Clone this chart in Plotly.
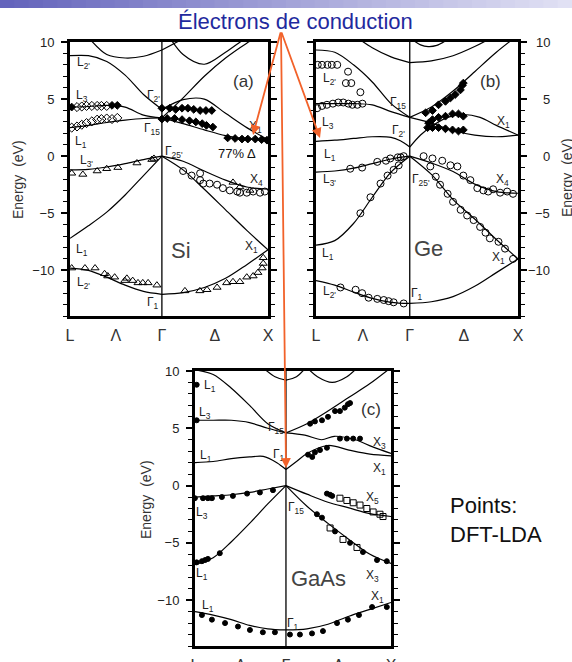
import plotly.graph_objects as go

W, H = 572, 662
KL = 0.866  # length of L-Gamma relative to Gamma-X
F6 = [0.0, 0.2, 0.4, 0.6, 0.8, 1.0]

K_TICKS = [-KL, -KL / 2, 0.0, 0.5, 1.0]
K_LABELS = ["L", "Λ", "Γ", "Δ", "X"]
E_TICKS = [-10, -5, 0, 5, 10]
E_LABELS = ["−10", "−5", "0", "5", "10"]
E_RANGE = [-14, 10]

# ---------------- Si (a): bands on F6 grid (fraction of path) ----------------
SI_L_BANDS = [
    [-9.8, -10.0, -10.6, -11.3, -11.85, -12.1],
    [-7.2, -6.1, -4.9, -3.4, -1.7, 0.0],
    [-1.2, -1.15, -0.95, -0.65, -0.3, 0.0],
    [2.5, 2.7, 2.95, 3.15, 3.3, 3.35],
    [4.3, 4.35, 4.45, 4.3, 3.6, 3.35],
    [8.8, 8.8, 8.3, 7.1, 5.4, 4.1],
    [None, 10.4, 8.9, 8.6, 8.75, 9.3],
]
SI_R_BANDS = [
    [-12.1, -11.95, -11.5, -10.7, -9.5, -8.2],
    [0.0, -1.2, -2.9, -4.7, -6.5, -8.2],
    [0.0, -0.45, -1.3, -2.1, -2.7, -2.9],
    [3.35, 2.85, 2.3, 1.8, 1.5, 1.45],
    [4.1, 4.95, 5.0, 3.75, 2.5, 1.45],
    [3.35, 5.1, 7.0, 8.6, 9.9, 11.0],
    [9.3, 10.3, 11.5, None, None, None],
    [11.5, 8.9, 8.05, 9.1, 10.4, 11.5],
]
# Si points (k on the L..Gamma..X axis, energy in eV)
SI_FILLED_K = [-0.85, -0.47, -0.42,
               0.0, 0.075, 0.13, 0.19, 0.245, 0.30, 0.36, 0.415, 0.47,
               0.0, 0.05, 0.12, 0.19, 0.26, 0.32, 0.38, 0.42, 0.48,
               0.62, 0.69, 0.755, 0.81, 0.88, 0.94, 0.99]
SI_FILLED_E = [4.3, 4.45, 4.45,
               4.2, 4.2, 4.1, 4.2, 4.2, 4.1, 4.0, 4.0, 4.0,
               3.25, 3.3, 3.3, 3.2, 3.1, 3.0, 2.85, 2.7, 2.55,
               1.6, 1.55, 1.5, 1.5, 1.5, 1.45, 1.4]
SI_OPEN_K = [-0.80, -0.755, -0.71, -0.66, -0.61, -0.57, -0.52,
             -0.85, -0.80, -0.755, -0.71, -0.66, -0.61, -0.57, -0.52, -0.47, -0.42]
SI_OPEN_E = [4.3, 4.35, 4.4, 4.4, 4.4, 4.4, 4.4,
             2.5, 2.6, 2.75, 2.9, 3.05, 3.2, 3.25, 3.3, 3.25, 3.35]
SI_TRI_K = [-0.85, -0.745, -0.61, -0.52, -0.415, -0.235, -0.095, -0.075,
            -0.85, -0.725, -0.63, -0.54, -0.51, -0.445, -0.35, -0.33, -0.275, -0.225, -0.18, -0.13, -0.047,
            0.217, 0.358, 0.425, 0.52, 0.61, 0.67, 0.735, 0.80, 0.86, 0.905, 0.945, 0.955, 0.955,
            0.67, 0.735, 0.83]
SI_TRI_E = [-1.5, -1.6, -1.3, -1.1, -1.0, -0.6, -0.3, -0.2,
            -9.8, -9.8, -9.8, -10.3, -10.5, -10.6, -10.9, -10.7, -10.9, -11.1, -11.1, -11.1, -11.3,
            -11.8, -11.8, -11.7, -11.5, -11.1, -11.0, -11.0, -10.6, -10.5, -10.2, -9.8, -9.4, -8.9,
            -2.3, -2.7, -3.0]
SI_CIRC_K = [0.2, 0.28, 0.36, 0.36, 0.39, 0.45, 0.52, 0.575, 0.64, 0.71, 0.735, 0.80, 0.86, 0.925, 0.97]
SI_CIRC_E = [-1.3, -1.7, -1.5, -2.1, -2.4, -2.4, -2.5, -2.8, -3.0, -3.1, -3.2, -3.2, -3.1, -3.2, -3.1]

# ---------------- Ge (b) ----------------
GE_L_BANDS = [
    [-10.9, -11.3, -11.9, -12.45, -12.8, -12.9],
    [-7.8, -7.4, -5.9, -3.6, -1.4, 0.0],
    [-1.4, -1.3, -1.05, -0.65, -0.25, 0.0],
    [4.6, 4.6, 4.6, 4.5, 3.9, 3.4],
    [9.3, 9.1, 8.0, 6.5, 4.6, 3.4],
    [None, None, 10.6, 9.5, 8.7, 8.2],
]
GE_L_C1_F = [0.0, 0.2, 0.4, 0.6, 0.8, 0.9, 1.0]
GE_L_C1_E = [1.3, 1.4, 1.55, 1.7, 1.65, 1.35, 0.8]
GE_R_BANDS = [
    [-12.9, -12.75, -12.3, -11.4, -10.2, -9.0],
    [0.0, -1.6, -3.8, -5.5, -7.3, -9.0],
    [0.0, -0.6, -1.35, -2.45, -3.1, -3.25],
    [3.4, 2.9, 2.25, 1.85, 1.7, 1.85],
    [3.4, 4.3, 5.7, 7.4, 9.1, 10.6],
    [8.2, 8.35, 8.8, 9.6, 10.6, None],
]
GE_R_C1_F = [0.0, 0.1, 0.2, 0.35, 0.5, 0.65, 0.8, 1.0]
GE_R_C1_E = [0.8, 1.85, 2.6, 3.4, 3.65, 3.4, 2.7, 1.85]
GE_R_ARC_F = [0.04, 0.1, 0.17, 0.25, 0.33]
GE_R_ARC_E = [10.1, 9.75, 9.6, 9.7, 10.1]

GE_OPEN_K = [-0.85, -0.81, -0.76, -0.72, -0.67, -0.57, -0.59, -0.54, -0.456,
             -0.856, -0.81, -0.765, -0.71, -0.66, -0.614, -0.567, -0.53, -0.484, -0.437,
             -0.55, -0.44, -0.30, -0.22, -0.18, -0.11, -0.084, -0.056,
             -0.456, -0.363, -0.27, -0.205, -0.149, -0.102,
             -0.64, -0.50, -0.44, -0.38, -0.30, -0.24, -0.195, -0.149, -0.056,
             0.128, 0.21, 0.30, 0.376, 0.44, 0.495, 0.56, 0.624, 0.68, 0.725, 0.77, 0.835, 0.90, 0.954,
             0.19, 0.24, 0.28, 0.35, 0.40, 0.47, 0.53, 0.59, 0.65, 0.70, 0.74, 0.82, 0.88, 0.954]
GE_OPEN_E = [8.0, 8.0, 8.0, 8.0, 8.0, 7.4, 6.4, 6.4, 5.6,
             4.2, 4.4, 4.5, 4.6, 4.7, 4.7, 4.6, 4.5, 4.5, 4.6,
             -1.1, -1.0, -0.5, -0.4, -0.2, -0.1, -0.1, 0.0,
             -5.0, -3.6, -2.4, -1.7, -1.2, -0.8,
             -11.5, -11.7, -12.0, -12.4, -12.5, -12.6, -12.7, -12.8, -12.9,
             0.0, -0.2, -0.4, -0.8, -0.9, -1.7, -2.1, -2.8, -3.0, -3.1, -2.9, -3.2, -3.1, -3.3,
             -0.9, -1.8, -2.5, -3.3, -4.0, -4.7, -5.2, -5.6, -6.2, -6.7, -7.2, -7.5, -8.1, -9.0]
GE_FILLED_K = [0.147, 0.21, 0.266, 0.33, 0.376, 0.42, 0.468, 0.486, 0.495,
               0.174, 0.21, 0.266, 0.33, 0.395, 0.45, 0.495,
               0.165, 0.21, 0.266, 0.33, 0.395, 0.45, 0.495]
GE_FILLED_E = [3.8, 4.0, 4.5, 4.8, 5.1, 5.4, 5.8, 6.2, 6.4,
               2.9, 3.2, 3.4, 3.5, 3.7, 3.7, 3.5,
               2.5, 2.5, 2.5, 2.4, 2.3, 2.2, 2.3]

# ---------------- GaAs (c) ----------------
GA_L_BANDS = [
    [-11.0, -11.3, -11.7, -12.2, -12.5, -12.6],
    [-6.9, -6.3, -4.9, -3.3, -1.6, 0.0],
    [-1.0, -0.9, -0.8, -0.6, -0.3, 0.0],
    [5.7, 5.7, 5.7, 5.5, 5.0, 4.6],
    [10.1, 9.7, 8.5, 7.0, 5.4, 4.6],
]
GA_L_C1_F = [0.0, 0.2, 0.4, 0.6, 0.75, 0.9, 1.0]
GA_L_C1_E = [2.0, 2.1, 2.35, 2.5, 2.55, 2.0, 1.4]
GA_L_ARC_F = [0.76, 0.88, 1.0]
GA_L_ARC_E = [10.2, 9.5, 9.2]
GA_R_BANDS = [
    [-12.6, -12.5, -12.1, -11.4, -10.8, -10.2],
    [0.0, -1.8, -3.3, -4.7, -6.0, -6.8],
    [0.0, -0.75, -1.45, -1.95, -2.45, -2.7],
    [4.6, 5.4, 6.5, 7.7, 8.9, 10.3],
]
GA_R_C1_F = [0.0, 0.1, 0.2, 0.4, 0.6, 0.8, 1.0]
GA_R_C1_E = [1.4, 2.1, 2.8, 3.5, 3.1, 2.75, 2.6]
GA_R_C2_F = [0.0, 0.18, 0.34, 0.46, 0.66, 0.82, 1.0]
GA_R_C2_E = [4.6, 4.4, 4.0, 4.3, 4.0, 3.4, 2.8]
GA_R_ARC1_F = [0.0, 0.1, 0.18]
GA_R_ARC1_E = [9.2, 9.5, 10.2]
GA_R_ARC2_F = [0.2, 0.3, 0.44, 0.58, 0.68]
GA_R_ARC2_E = [10.3, 9.5, 9.0, 9.5, 10.3]

GA_FILLED_K = [-0.85, -0.85,
               0.21, 0.25, 0.276, 0.324, 0.39,
               0.514, 0.58, 0.64, 0.705,
               0.23, 0.276, 0.343, 0.40, 0.467, 0.514, 0.56, 0.59, 0.61,
               -0.867, -0.79, -0.743, -0.705, -0.61, -0.505, -0.37, -0.248, -0.124,
               -0.85, -0.80, -0.77, -0.743, -0.63,
               -0.80, -0.705, -0.58, -0.457, -0.343, -0.22, -0.105,
               0.038, 0.133, 0.248, 0.352, 0.486, 0.59, 0.695, 0.82, 0.96,
               0.295, 0.343, 0.467, 0.61, 0.733, 0.867, 0.96,
               0.39, 0.42, 0.44]
GA_FILLED_E = [8.8, 5.7,
               2.7, 2.5, 2.9, 3.1, 3.3,
               4.1, 4.1, 4.1, 4.1,
               5.4, 5.6, 5.7, 6.0, 6.5, 6.5, 6.8, 7.1, 7.2,
               -1.1, -1.1, -1.1, -1.1, -1.0, -0.9, -0.7, -0.6, -0.4,
               -6.7, -6.6, -6.5, -6.4, -5.9,
               -11.3, -11.7, -12.0, -12.3, -12.6, -12.8, -12.8,
               -13.0, -13.0, -12.9, -12.7, -12.0, -11.7, -11.3, -10.6, -10.6,
               -2.5, -2.8, -4.0, -5.0, -5.8, -6.5, -6.6,
               -0.7, -0.8, -0.9]
GA_SQUARE_K = [0.514, 0.58, 0.64, 0.705, 0.77, 0.83, 0.895, 0.924, 0.42, 0.543, 0.676]
GA_SQUARE_E = [-1.1, -1.3, -1.5, -1.7, -2.0, -2.3, -2.5, -2.7, -3.7, -4.7, -5.4]

# ---------------- figure ----------------
PANEL_BOX = {  # pixel boxes: left, top, right, bottom
    "a": (70, 42, 268, 316),
    "b": (316, 42, 518, 316),
    "c": (195, 371, 391, 646),
}
AXES = {"a": ("x", "y"), "b": ("x2", "y2"), "c": ("x3", "y3")}

fig = go.Figure()


def kx(side, fr):
    return [-KL * (1 - f) for f in fr] if side == "L" else list(fr)


def band(p, side, fr, en):
    xa, ya = AXES[p]
    fig.add_trace(go.Scatter(
        x=kx(side, fr), y=en, mode="lines", xaxis=xa, yaxis=ya,
        line=dict(color="black", width=1.2, shape="spline", smoothing=0.9),
        hoverinfo="skip", showlegend=False))


def points(p, k, e, symbol, size, width=1.0):
    xa, ya = AXES[p]
    fig.add_trace(go.Scatter(
        x=k, y=e, mode="markers", xaxis=xa, yaxis=ya,
        marker=dict(symbol=symbol, size=size, color="black",
                    line=dict(color="black", width=width)),
        hoverinfo="skip", showlegend=False))


for b in SI_L_BANDS:
    band("a", "L", F6, b)
for b in SI_R_BANDS:
    band("a", "R", F6, b)
for b in GE_L_BANDS:
    band("b", "L", F6, b)
band("b", "L", GE_L_C1_F, GE_L_C1_E)
for b in GE_R_BANDS:
    band("b", "R", F6, b)
band("b", "R", GE_R_C1_F, GE_R_C1_E)
band("b", "R", GE_R_ARC_F, GE_R_ARC_E)
for b in GA_L_BANDS:
    band("c", "L", F6, b)
band("c", "L", GA_L_C1_F, GA_L_C1_E)
band("c", "L", GA_L_ARC_F, GA_L_ARC_E)
for b in GA_R_BANDS:
    band("c", "R", F6, b)
band("c", "R", GA_R_C1_F, GA_R_C1_E)
band("c", "R", GA_R_C2_F, GA_R_C2_E)
band("c", "R", GA_R_ARC1_F, GA_R_ARC1_E)
band("c", "R", GA_R_ARC2_F, GA_R_ARC2_E)

points("a", SI_OPEN_K, SI_OPEN_E, "diamond-open", 7)
points("a", SI_FILLED_K, SI_FILLED_E, "diamond", 6)
points("a", SI_TRI_K, SI_TRI_E, "triangle-up-open", 7)
points("a", SI_CIRC_K, SI_CIRC_E, "circle-open", 7)
points("b", GE_OPEN_K, GE_OPEN_E, "circle-open", 7)
points("b", GE_FILLED_K, GE_FILLED_E, "diamond", 6)
points("c", GA_FILLED_K, GA_FILLED_E, "circle", 5)
points("c", GA_SQUARE_K, GA_SQUARE_E, "square-open", 6)

FONT = "Liberation Sans"


def xaxis(p):
    l, t, r, b = PANEL_BOX[p]
    return dict(domain=[l / W, r / W], range=[-KL, 1.0], anchor=AXES[p][1],
                showline=True, linewidth=3, linecolor="black", mirror=True,
                showgrid=False, zeroline=False, tickmode="array",
                tickvals=K_TICKS, ticktext=K_LABELS, ticks="",
                tickfont=dict(family=FONT, size=16, color="#333"),
                ticklabelstandoff=3, fixedrange=True, automargin=False)


def yaxis(p, side="left", labels=True):
    l, t, r, b = PANEL_BOX[p]
    return dict(domain=[1 - b / H, 1 - t / H], range=E_RANGE, anchor=AXES[p][0],
                side=side, showline=True, linewidth=3, linecolor="black",
                mirror="allticks", showgrid=False, zeroline=False,
                tickmode="array", tickvals=E_TICKS, ticktext=E_LABELS,
                ticks="outside", ticklen=6, tickwidth=1.5, tickcolor="black",
                minor=dict(ticks="outside", dtick=1, tick0=0, ticklen=4,
                           tickwidth=1, tickcolor="black", showgrid=False),
                showticklabels=labels,
                tickfont=dict(family=FONT, size=13, color="#222"),
                ticklabelstandoff=4, fixedrange=True, automargin=False)


shapes = []
# header gradient bar
NSEG = 40
for i in range(NSEG):
    t = i / (NSEG - 1)
    c = (int(100 + 125 * t), int(100 + 125 * t), int(188 + 56 * t))
    shapes.append(dict(type="rect", xref="paper", yref="paper",
                       x0=i / NSEG, x1=(i + 1) / NSEG + 0.002, y0=1 - 8 / H, y1=1,
                       fillcolor="rgb(%d,%d,%d)" % c, line=dict(width=0), layer="below"))
# Gamma vertical lines
for p in "abc":
    xa, ya = AXES[p]
    shapes.append(dict(type="line", xref=xa, yref=ya + " domain", x0=0, x1=0, y0=0, y1=1,
                       line=dict(color="black", width=1.3)))

annotations = []


def ann(text, x, y, size=12, color="#222", family=FONT, **kw):
    d = dict(text=text, x=x / W, y=1 - y / H, xref="paper", yref="paper",
             xanchor="center", yanchor="middle",
             showarrow=False, font=dict(size=size, color=color, family=family))
    d.update(kw)
    annotations.append(d)


LBL = 12
for t, x, y in [("L<sub>2'</sub>", 83, 63), ("L<sub>3</sub>", 82, 96), ("L<sub>1</sub>", 81, 142),
                ("L<sub>3'</sub>", 86, 161), ("Γ<sub>2'</sub>", 153, 96), ("Γ<sub>15</sub>", 152, 129),
                ("Γ<sub>25'</sub>", 174, 152), ("X<sub>1</sub>", 255, 127), ("X<sub>4</sub>", 256, 180),
                ("L<sub>1</sub>", 82, 250), ("X<sub>1</sub>", 251, 247), ("L<sub>2'</sub>", 83, 283),
                ("Γ<sub>1</sub>", 153, 303),
                # panel (b)
                ("L<sub>2'</sub>", 329, 79), ("L<sub>3</sub>", 328, 123), ("L<sub>1</sub>", 330, 155),
                ("Γ<sub>15</sub>", 398, 103), ("Γ<sub>2'</sub>", 398, 131), ("X<sub>1</sub>", 503, 122),
                ("L<sub>3'</sub>", 330, 180), ("Γ<sub>25'</sub>", 421, 180), ("X<sub>4</sub>", 502, 180),
                ("L<sub>1</sub>", 328, 254), ("X<sub>1</sub>", 498, 258), ("L<sub>2'</sub>", 330, 292),
                ("Γ<sub>1</sub>", 417, 294),
                # panel (c)
                ("L<sub>1</sub>", 210, 386), ("L<sub>3</sub>", 205, 413), ("Γ<sub>15</sub>", 276, 428),
                ("L<sub>1</sub>", 206, 456), ("Γ<sub>1</sub>", 279, 455), ("X<sub>3</sub>", 379, 443),
                ("X<sub>1</sub>", 379, 469), ("L<sub>3</sub>", 202, 513), ("Γ<sub>15</sub>", 296, 508),
                ("X<sub>5</sub>", 372, 498), ("L<sub>1</sub>", 202, 574), ("X<sub>3</sub>", 372, 576),
                ("X<sub>1</sub>", 377, 597), ("L<sub>1</sub>", 208, 606), ("Γ<sub>1</sub>", 293, 624)]:
    ann(t, x, y, LBL)

ann("(a)", 243, 82, 17, "#333")
ann("(b)", 490, 82, 17, "#333")
ann("(c)", 371, 410, 17, "#333")
ann("Si", 181, 250, 22, "#444")
ann("Ge", 428, 248, 22, "#444")
ann("GaAs", 318, 578, 22, "#444")
ann("77% Δ", 237, 154, 13, "#111")

# Energy axis titles
ann("Energy  (eV)", 18, 180, 14, "#333", textangle=-90)
ann("Energy  (eV)", 567, 178, 14, "#333", textangle=-90)
ann("Energy  (eV)", 146, 500, 14, "#333", textangle=-90)

# right-aligned tick labels of panel (b), placed on its own energy scale
for v, s in zip(E_TICKS, E_LABELS):
    annotations.append(dict(text=s, x=552 / W, xref="paper", xanchor="right",
                            y=v, yref="y2", yanchor="middle", showarrow=False,
                            font=dict(size=13, color="#222", family=FONT)))

# title and side text
ann("Électrons de conduction", 295, 21, 22, "#1f2a9e")
ann("Points:<br>DFT-LDA", 448, 520, 22, "#111", xanchor="left", align="left")

# arrows from the title
TAIL = (281, 31)
ARROW = "#f2622a"
for hx, hy in [(253, 135), (320, 138), (286, 468)]:
    annotations.append(dict(x=hx / W, y=1 - hy / H, xref="paper", yref="paper",
                            ax=TAIL[0] - hx, ay=TAIL[1] - hy, text="", showarrow=True,
                            arrowhead=2, arrowsize=1.1, arrowwidth=1.8, arrowcolor=ARROW,
                            standoff=0, startstandoff=0))

fig.update_layout(
    width=W, height=H, margin=dict(l=0, r=0, t=0, b=0, autoexpand=False),
    paper_bgcolor="white", plot_bgcolor="white", showlegend=False,
    xaxis=xaxis("a"), yaxis=yaxis("a"),
    xaxis2=xaxis("b"), yaxis2=yaxis("b", side="right", labels=False),
    xaxis3=xaxis("c"), yaxis3=yaxis("c"),
    shapes=shapes, annotations=annotations,
)

fig.write_html("out.html", config={"displayModeBar": False},
               post_script="document.body.style.margin='0';")
